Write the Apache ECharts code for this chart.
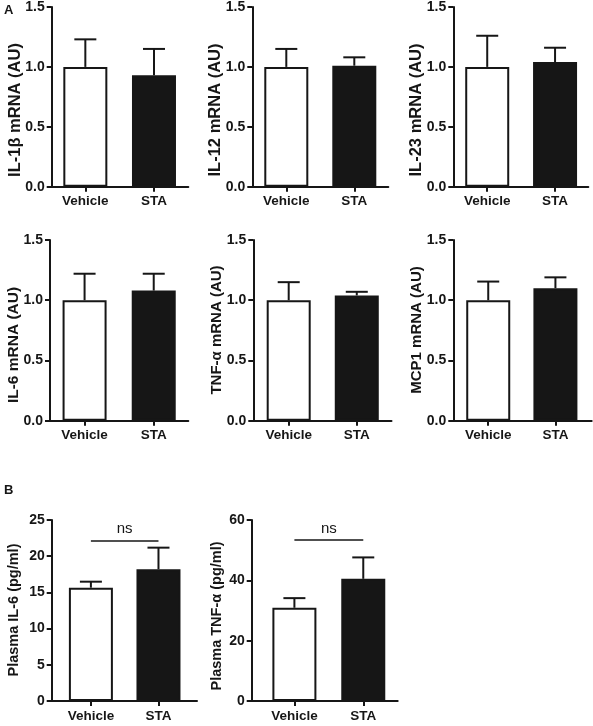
<!DOCTYPE html>
<html>
<head>
<meta charset="utf-8">
<script src="https://cdn.jsdelivr.net/npm/echarts@6/dist/echarts.min.js"></script>
<style>html,body{margin:0;padding:0;background:#fff}#c{width:593px;height:726px}</style>
</head>
<body>
<div id="c"></div>
<script>
// ---- data ----
const categories = ['Vehicle', 'STA'];
const panelTitles = ['IL-1β mRNA (AU)', 'IL-12 mRNA (AU)', 'IL-23 mRNA (AU)', 'IL-6 mRNA (AU)', 'TNF-α mRNA (AU)', 'MCP1 mRNA (AU)', 'Plasma IL-6 (pg/ml)', 'Plasma TNF-α (pg/ml)'];
const vehicleMeans = [1.00, 1.00, 1.00, 1.00, 1.00, 1.00, 15.65, 30.9];
const vehicleSEM   = [0.23, 0.15, 0.26, 0.22, 0.15, 0.155, 0.83, 3.2];
const staMeans     = [0.93, 1.01, 1.04, 1.08, 1.04, 1.10, 18.2, 40.5];
const staSEM       = [0.22, 0.07, 0.12, 0.14, 0.03, 0.09, 2.98, 7.1];
const yMax         = [1.5, 1.5, 1.5, 1.5, 1.5, 1.5, 25, 60];
const yStep        = [0.5, 0.5, 0.5, 0.5, 0.5, 0.5, 5, 20];
const yDecimals    = [1, 1, 1, 1, 1, 1, 0, 0];
const nsLevel      = [null, null, null, null, null, null, 22.2, 53.4];
const nsText = 'ns';
const panelLetters = ['A', 'B'];

// ---- layout (px) ----
const layout = [
  {left: 51.7, width: 136.6, top: 6,   height: 180.7, xmin: -0.49, xmax: 1.5,  tx: 15,    ty: 110, fs: 16.5},
  {left: 252.3, width: 136,  top: 6,   height: 180.7, xmin: -0.5,  xmax: 1.5,  tx: 215,   ty: 110, fs: 16.5},
  {left: 453.3, width: 135,  top: 6,   height: 180.7, xmin: -0.5,  xmax: 1.49, tx: 416.5, ty: 110, fs: 16.5},
  {left: 50,    width: 138.3, top: 240, height: 180.7, xmin: -0.5, xmax: 1.5,  tx: 14,    ty: 345, fs: 15.5},
  {left: 253.3, width: 138.2, top: 240, height: 180.7, xmin: -0.52, xmax: 1.51, tx: 217,  ty: 330, fs: 15},
  {left: 453.3, width: 138.4, top: 240, height: 180.7, xmin: -0.52, xmax: 1.54, tx: 417,  ty: 330, fs: 15},
  {left: 51.7,  width: 145.3, top: 520, height: 181,   xmin: -0.58, xmax: 1.57, tx: 13.5, ty: 610, fs: 14.5},
  {left: 251.7, width: 146,   top: 520, height: 181,   xmin: -0.62, xmax: 1.5,  tx: 216.5, ty: 616, fs: 14.5}
];
const letterPos = [{x: 4, y: 4}, {x: 4, y: 484}];

const INK = '#161616';
const FONT = 'Liberation Sans, Arial, sans-serif';

const grids = [], xAxes = [], yAxes = [], series = [], graphics = [];

layout.forEach((L, i) => {
  grids.push({left: L.left, top: L.top, width: L.width, height: L.height, containLabel: false});
  xAxes.push({
    gridIndex: i, type: 'value', min: L.xmin, max: L.xmax,
    axisLine: {show: true, onZero: false, lineStyle: {color: INK, width: 2}},
    axisTick: {show: true, length: 5, customValues: [0, 1], lineStyle: {color: INK, width: 2}},
    axisLabel: {show: true, customValues: [0, 1], margin: 8,
      formatter: v => categories[Math.round(v)],
      color: INK, fontFamily: FONT, fontWeight: 'bold', fontSize: 13.5},
    splitLine: {show: false}
  });
  yAxes.push({
    gridIndex: i, type: 'value', min: 0, max: yMax[i], interval: yStep[i],
    axisLine: {show: true, onZero: false, lineStyle: {color: INK, width: 2}},
    axisTick: {show: true, length: 5, lineStyle: {color: INK, width: 2}},
    axisLabel: {margin: 7, color: INK, fontFamily: FONT, fontWeight: 'bold', fontSize: 14,
      formatter: v => v.toFixed(yDecimals[i])},
    splitLine: {show: false}
  });
  const barSeries = {
    type: 'bar', xAxisIndex: i, yAxisIndex: i, barWidth: 44, silent: true,
    data: [
      {value: [0, vehicleMeans[i]], itemStyle: {color: '#ffffff', borderColor: INK, borderWidth: 2}},
      {value: [1, staMeans[i]], itemStyle: {color: INK, borderColor: INK, borderWidth: 2}}
    ],
    z: 2
  };
  if (nsLevel[i] != null) {
    barSeries.markLine = {
      silent: true, symbol: 'none', animation: false,
      lineStyle: {color: INK, width: 1.5, type: 'solid'},
      label: {show: true, position: 'middle', formatter: nsText, color: INK,
        fontFamily: FONT, fontSize: 15, distance: 4},
      data: [[{coord: [0, nsLevel[i]]}, {coord: [1, nsLevel[i]]}]]
    };
  }
  series.push(barSeries);
  series.push({
    type: 'custom', xAxisIndex: i, yAxisIndex: i, silent: true, z: 3,
    data: [[0, vehicleMeans[i], vehicleSEM[i]], [1, staMeans[i], staSEM[i]]],
    encode: {x: 0, y: 1},
    renderItem: function (params, api) {
      const x = api.value(0), m = api.value(1), e = api.value(2);
      const p0 = api.coord([x, m]);
      const p1 = api.coord([x, m + e]);
      const hw = 11;
      return {type: 'group', children: [
        {type: 'line', shape: {x1: p0[0], y1: p0[1], x2: p1[0], y2: p1[1]}, style: {stroke: INK, lineWidth: 2}},
        {type: 'line', shape: {x1: p1[0] - hw, y1: p1[1], x2: p1[0] + hw, y2: p1[1]}, style: {stroke: INK, lineWidth: 2}}
      ]};
    }
  });
  graphics.push({
    type: 'text', x: L.tx, y: L.ty, rotation: Math.PI / 2,
    style: {text: panelTitles[i], fill: INK, font: 'bold ' + L.fs + 'px ' + FONT, align: 'center', verticalAlign: 'middle'}
  });
});

panelLetters.forEach((t, k) => {
  graphics.push({type: 'text', x: letterPos[k].x, y: letterPos[k].y,
    style: {text: t, fill: INK, font: 'bold 13px ' + FONT, align: 'left', verticalAlign: 'top'}});
});

const chart = echarts.init(document.getElementById('c'), null, {renderer: 'canvas'});
chart.setOption({
  animation: false,
  backgroundColor: '#ffffff',
  grid: grids, xAxis: xAxes, yAxis: yAxes, series: series, graphic: graphics
});
</script>
</body>
</html>
